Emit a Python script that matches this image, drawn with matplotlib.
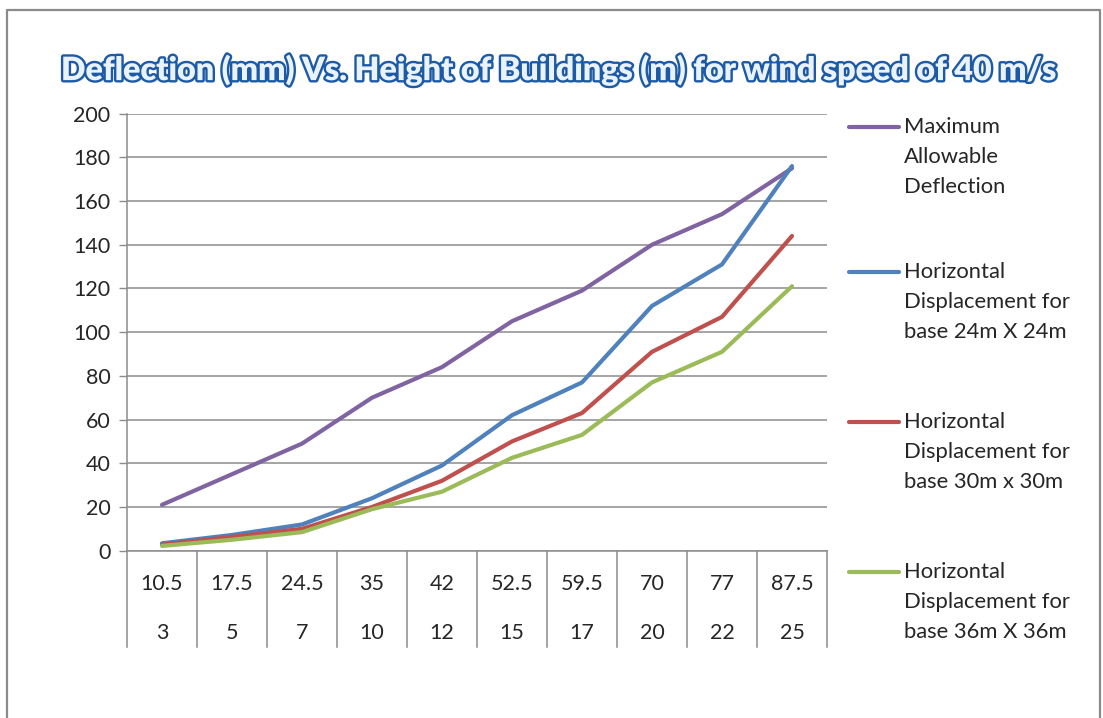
import matplotlib
matplotlib.use("Agg")
import matplotlib.pyplot as plt
from matplotlib.lines import Line2D
from matplotlib import patheffects as pe
from matplotlib.transforms import blended_transform_factory

# ---- data ----
heights_m = ["10.5", "17.5", "24.5", "35", "42", "52.5", "59.5", "70", "77", "87.5"]
storeys = ["3", "5", "7", "10", "12", "15", "17", "20", "22", "25"]

max_allowable = [21, 35, 49, 70, 84, 105, 119, 140, 154, 175]
disp_24 = [3.4, 7.2, 12, 24, 39, 62, 77, 112, 131, 176]
disp_30 = [2.8, 6.3, 10, 20, 32, 50, 63, 91, 107, 144]
disp_36 = [2.2, 5, 8.5, 19, 27, 42.5, 53, 77, 91, 121]

series_names = [
    "Maximum\nAllowable\nDeflection",
    "Horizontal\nDisplacement for\nbase 24m X 24m",
    "Horizontal\nDisplacement for\nbase 30m x 30m",
    "Horizontal\nDisplacement for\nbase 36m X 36m",
]
series_values = [max_allowable, disp_24, disp_30, disp_36]
series_colors = ["#8064A2", "#4F81BD", "#C0504D", "#9BBB59"]

y_ticks = [0, 20, 40, 60, 80, 100, 120, 140, 160, 180, 200]
title = "Deflection (mm) Vs. Height of Buildings (m) for wind speed of 40 m/s"

# ---- figure ----
W, H = 1103, 718
fig = plt.figure(figsize=(W / 100, H / 100), dpi=100)
fig.patch.set_facecolor("white")

def fx(px):
    return px / W

def fy(py):
    return 1 - py / H

FONT = "Lato"
TXT = "#262626"
GRID = "#8c8c8c"
FS = 15.5

# outer chart border (bottom edge runs off the canvas)
fig.add_artist(Line2D([fx(7), fx(7), fx(1100), fx(1100)],
                      [fy(H + 5), fy(10), fy(10), fy(H + 5)],
                      color="#8a8a8a", lw=1.6, transform=fig.transFigure))

# plot area
left, right, top, bottom = 127, 827, 113.6, 550.7
ax = fig.add_axes([fx(left), fy(bottom), fx(right) - fx(left), fy(top) - fy(bottom)])
x = list(range(len(heights_m)))
ax.set_xlim(-0.5, len(x) - 0.5)
ax.set_ylim(0, 200)

for vals, col, name in zip(series_values, series_colors, series_names):
    ax.plot(x, vals, color=col, lw=3.0, solid_capstyle="round",
            solid_joinstyle="round", label=name, zorder=3)

ax.set_yticks(y_ticks)
ax.set_yticklabels([str(v) for v in y_ticks], fontsize=FS, family=FONT, color=TXT)
ax.tick_params(axis="y", length=6, width=1, color=GRID, pad=6, direction="out")
ax.yaxis.grid(True, color=GRID, lw=1.1)
ax.set_axisbelow(True)
ax.set_xticks([])
for s in ["top", "right"]:
    ax.spines[s].set_visible(False)
ax.spines["left"].set_color(GRID)
ax.spines["bottom"].set_color(GRID)
ax.spines["left"].set_linewidth(1.1)
ax.spines["bottom"].set_linewidth(1.1)

# multi-level category axis
trans = blended_transform_factory(ax.transData, ax.transAxes)
ph = bottom - top
depth = (647 - bottom) / ph
for i in range(len(x) + 1):
    ax.add_artist(Line2D([i - 0.5, i - 0.5], [0, -depth], color=GRID, lw=1.1,
                         transform=trans, clip_on=False))
row1 = -(584 - bottom) / ph
row2 = -(633 - bottom) / ph
for i, (h, s) in enumerate(zip(heights_m, storeys)):
    ax.text(i, row1, h, transform=trans, ha="center", va="center",
            fontsize=FS, family=FONT, color=TXT)
    ax.text(i, row2, s, transform=trans, ha="center", va="center",
            fontsize=FS, family=FONT, color=TXT)

# legend
entry_y = [127, 272, 422, 572]
for name, col, ey in zip(series_names, series_colors, entry_y):
    fig.add_artist(Line2D([fx(849), fx(899)], [fy(ey), fy(ey)], color=col, lw=3.0,
                          solid_capstyle="round", transform=fig.transFigure))
    fig.text(fx(904), fy(ey - 10), name, ha="left", va="top", fontsize=FS + 0.3,
             family=FONT, color=TXT, linespacing=1.62)

# title with outlined lettering
fig.text(fx(560), fy(70), title, ha="center", va="center", fontsize=23.2,
         family=FONT, fontweight="heavy", color="#eaf2fb",
         path_effects=[pe.SimplePatchShadow(offset=(1.5, -1.5), shadow_rgbFace="#7fa6d6", alpha=0.5),
                       pe.withStroke(linewidth=3.4, foreground="#1c5aa6")])

fig.savefig("out.png", dpi=100, facecolor="white")
